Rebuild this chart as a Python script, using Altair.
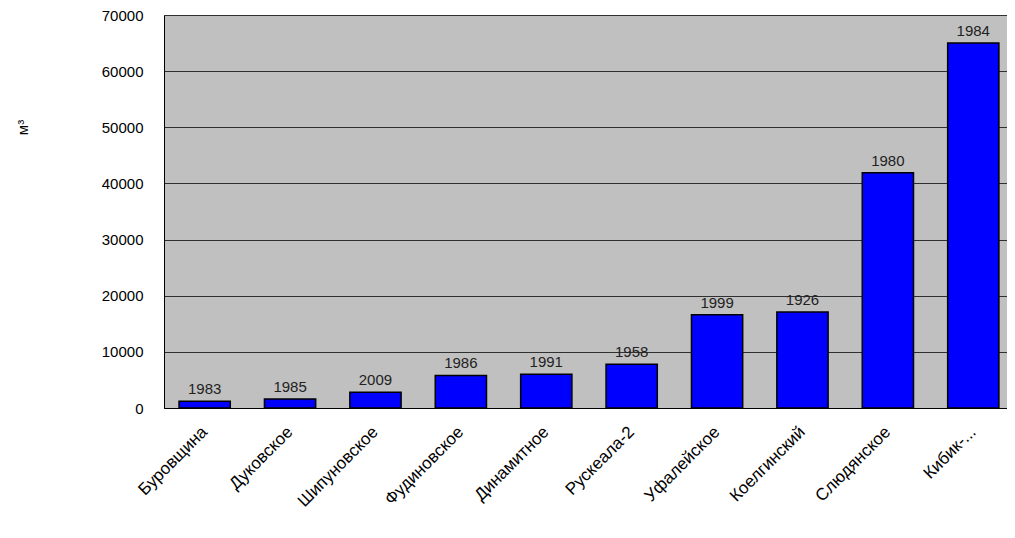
import altair as alt
import pandas as pd

names = ["Буровщина", "Дуковское", "Шипуновское", "Фудиновское", "Динамитное",
         "Рускеала-2", "Уфалейское", "Коелгинский", "Слюдянское", "Кибик-..."]
values = [1200, 1600, 2800, 5800, 6000, 7800, 16600, 17100, 41900, 65000]
years = ["1983", "1985", "2009", "1986", "1991", "1958", "1999", "1926", "1980", "1984"]
y_ticks = [0, 10000, 20000, 30000, 40000, 50000, 60000, 70000]

df = pd.DataFrame({"name": names, "value": values, "year": years})

FONT = "Liberation Sans"

x = alt.X("name:N", sort=names, title=None,
          scale=alt.Scale(paddingInner=0.4, paddingOuter=0.1355, align=0.65),
          axis=alt.Axis(labelAngle=-45, labelAlign="right", labelBaseline="middle",
                        labelPadding=21, ticks=False, domain=True, domainColor="#000",
                        labelFontSize=17, labelFont=FONT, labelColor="#000",
                        labelLimit=300))
y = alt.Y("value:Q", title="м³",
          scale=alt.Scale(domain=[0, 70000], nice=False),
          axis=alt.Axis(values=y_ticks, format="d", ticks=False, labelPadding=21,
                        labelFontSize=15, labelFont=FONT, labelColor="#000",
                        domain=True, domainColor="#000",
                        grid=True, gridColor="#303030", gridWidth=1,
                        titleFont=FONT, titleFontSize=15, titleFontWeight="normal",
                        titleColor="#000", titleAngle=-90, titleX=-134, titleY=112))

bars = alt.Chart(df).mark_bar(color="#0000FF", stroke="#000", strokeWidth=1.5).encode(x=x, y=y)
labels = alt.Chart(df).mark_text(baseline="bottom", dy=-4, fontSize=15, font=FONT,
                                 color="#222").encode(x=x, y=y, text="year:N")

chart = (bars + labels).properties(
    width=843, height=393,
    autosize=alt.AutoSizeParams(type="none"),
    padding={"left": 156, "top": 7, "right": 0, "bottom": 122},
    background="#FFFFFF",
).configure_view(fill="#C0C0C0", stroke="#808080", strokeWidth=1)

chart.save("out.html", embed_options={"renderer": "svg", "actions": False})
